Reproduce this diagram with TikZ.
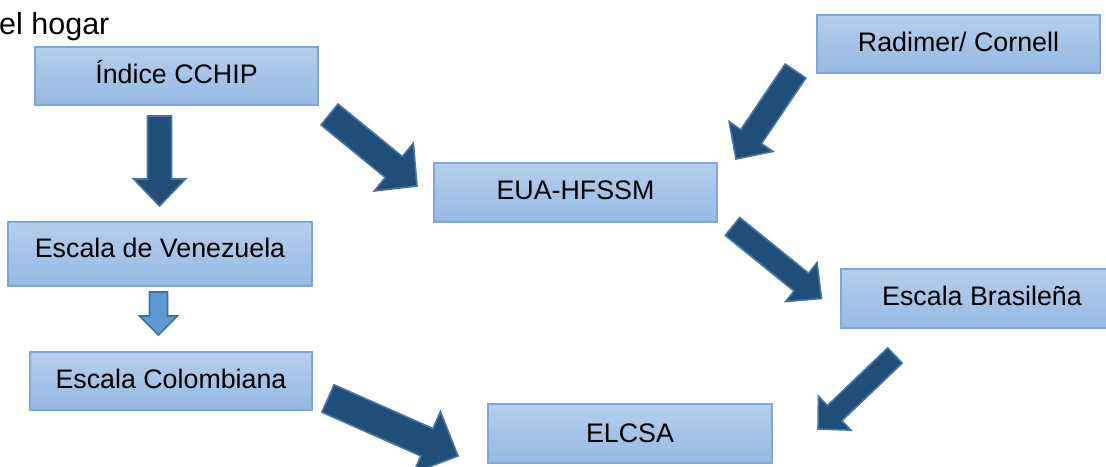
\documentclass[tikz,border=0pt]{standalone}
\usepackage{fontspec}
\setmainfont{Liberation Sans}
\usetikzlibrary{calc}
\definecolor{boxtop}{HTML}{B6CEEB}
\definecolor{boxbot}{HTML}{96B9E3}
\definecolor{boxline}{HTML}{7FA8DA}
\definecolor{arrfill}{HTML}{1F4E79}
\definecolor{arrline}{HTML}{4676A6}
\definecolor{lightfill}{HTML}{5B9BD5}
\definecolor{lightline}{HTML}{41719C}
\tikzset{
  stagebox/.style={draw=boxline, line width=1.2pt, top color=boxtop, bottom color=boxbot},
  stagetext/.style={anchor=base, inner sep=0pt, font=\fontsize{26.8pt}{30pt}\selectfont},
  darkarrow/.style={draw=arrline, fill=arrfill, line width=1.6pt, line join=miter},
  lightarrow/.style={draw=lightline, fill=lightfill, line width=1.6pt, line join=miter}
}
% #1 style, #2 tail, #3 tip, #4 shaft half width, #5 head half width, #6 head length, #7 name of head base
\newcommand{\blockarrow}[7]{%
  \coordinate (#7) at ($(#3)!#6!(#2)$);
  \draw[#1] ($(#2)!#4!90:(#3)$) -- ($(#7)!#4!90:(#3)$) -- ($(#7)!#5!90:(#3)$) -- (#3)
    -- ($(#7)!#5!-90:(#3)$) -- ($(#7)!#4!-90:(#3)$) -- ($(#2)!#4!-90:(#3)$) -- cycle;
}
\begin{document}
\begin{tikzpicture}[x=1pt, y=-1pt]
\useasboundingbox (0,0) rectangle (1106,466);
\fill[white] (0,0) rectangle (1106,466);

\node[anchor=base west, inner sep=0pt, font=\fontsize{30.5pt}{34pt}\selectfont] (title) at (-1,34) {el hogar};

% boxes
\path[stagebox] (35,47) rectangle (318,105);
\node[stagetext] (cchip) at (176.5,83) {Índice CCHIP};

\path[stagebox] (817,15) rectangle (1100,73);
\node[stagetext] (radimer) at (958.5,51) {Radimer/ Cornell};

\path[stagebox] (434,163) rectangle (717,222);
\node[stagetext] (eua) at (575.5,199) {EUA-HFSSM};

\path[stagebox] (8,222) rectangle (312,286);
\node[stagetext] (venezuela) at (160,257) {Escala de Venezuela};

\path[stagebox] (841,269) rectangle (1123,328);
\node[stagetext] (brasil) at (982,305) {Escala Brasileña};

\path[stagebox] (30,352) rectangle (312,410);
\node[stagetext] (colombia) at (171,388) {Escala Colombiana};

\path[stagebox] (488,404) rectangle (772,463);
\node[stagetext] (elcsa) at (630,442) {ELCSA};

% arrows
\coordinate (a1t) at (159.5,116); \coordinate (a1p) at (159.5,206);
\blockarrow{darkarrow}{a1t}{a1p}{12pt}{26pt}{27pt}{a1h}

\coordinate (a2t) at (329.5,114.5); \coordinate (a2p) at (417,186);
\blockarrow{darkarrow}{a2t}{a2p}{13.5pt}{31pt}{30pt}{a2h}

\coordinate (a3t) at (795.5,71); \coordinate (a3p) at (736,159);
\blockarrow{darkarrow}{a3t}{a3p}{12.5pt}{26.5pt}{27pt}{a3h}

\coordinate (a4t) at (158.5,292); \coordinate (a4p) at (158.5,335);
\blockarrow{lightarrow}{a4t}{a4p}{9pt}{19pt}{19pt}{a4h}

\coordinate (a5t) at (328,398.5); \coordinate (a5p) at (458,456);
\blockarrow{darkarrow}{a5t}{a5p}{15pt}{33.5pt}{34pt}{a5h}

\coordinate (a6t) at (732.5,226.5); \coordinate (a6p) at (821.5,298.5);
\blockarrow{darkarrow}{a6t}{a6p}{11.5pt}{25pt}{26pt}{a6h}

\coordinate (a7t) at (895,355.5); \coordinate (a7p) at (818,429);
\blockarrow{darkarrow}{a7t}{a7p}{10.5pt}{23.5pt}{23pt}{a7h}
\end{tikzpicture}
\end{document}
